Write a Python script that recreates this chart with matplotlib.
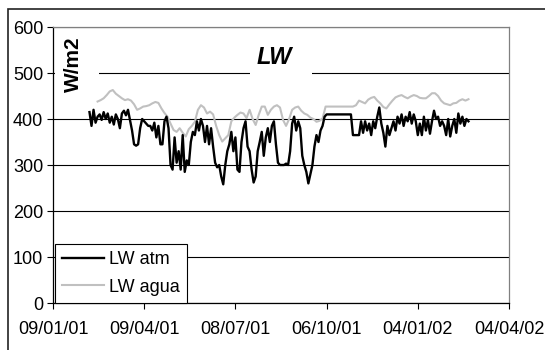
import matplotlib
matplotlib.use("Agg")
import matplotlib.pyplot as plt
import matplotlib.dates as mdates
import pandas as pd
from matplotlib.patches import Rectangle

plt.rcParams['font.family'] = ['Liberation Sans', 'DejaVu Sans']

# LW atm, one value every 2 days starting 14/02/01
atm_start = "2001-02-14"
lw_atm = [
    415, 385, 420, 392, 405, 410, 398, 415, 400, 412,
    392, 405, 388, 410, 400, 380, 412, 418, 408, 420,
    398, 375, 345, 342, 345, 380, 400, 395, 390, 385,
    385, 375, 392, 360, 385, 345, 345, 395, 405, 380,
    300, 290, 360, 305, 330, 290, 365, 285, 310, 300,
    350, 372, 365, 395, 375, 400, 385, 350, 385, 345,
    380, 340, 305, 295, 300, 275, 258, 300, 330, 345,
    372, 330, 360, 290, 285, 350, 380, 395, 340, 330,
    290, 262, 275, 330, 350, 372, 320, 360, 380, 350,
    385, 395, 345, 305, 300, 300, 300, 303, 300, 330,
    390, 405, 375, 395, 380, 320, 300, 285, 260, 280,
    300, 340, 365, 350, 375, 385, 405, 410, 410, 410,
    410, 410, 410, 410, 410, 410, 410, 410, 410, 410,
    365, 365, 365, 365, 395, 370, 395, 375, 390, 365,
    395, 380, 405, 425, 390, 370, 340, 385, 365, 380,
    395, 375, 405, 390, 410, 385, 405, 395, 415, 390,
    410, 395, 365, 390, 365, 405, 375, 398, 368, 395,
    418, 400, 405, 385, 395, 385, 365, 400, 362, 385,
    400, 370, 412, 390, 405, 385, 400, 395,
]

# LW agua, one value every 3 days starting 22/02/01
agua_start = "2001-02-22"
lw_agua = [
    438, 441, 445, 452, 460, 463, 455, 450, 445, 441,
    443, 440, 432, 420, 423, 427, 428, 430, 434, 437,
    435, 423, 413, 405, 390, 376, 372, 380, 370, 362,
    378, 385, 394, 420, 430, 425, 412, 416, 410, 385,
    365, 351, 358, 365, 395, 403, 409, 414, 412, 402,
    420, 400, 387, 409, 427, 427, 409, 420, 427, 430,
    425, 398, 385, 400, 420, 425, 427, 418, 412, 409,
    403, 400, 394, 396, 401, 427, 427, 427, 427, 427,
    427, 427, 427, 427, 427, 430, 440, 437, 434, 442,
    446, 448, 440, 434, 426, 423, 432, 440, 447, 450,
    452, 448, 445, 449, 452, 450, 446, 445, 445, 450,
    456, 456, 450, 440, 434, 432, 430, 434, 435, 440,
    443, 440, 443,
]

tick_dates = ["2001-01-09", "2001-04-09", "2001-07-08",
              "2001-10-06", "2002-01-04", "2002-04-04"]
y_ticks = [0, 100, 200, 300, 400, 500, 600]

atm_dates = pd.date_range(atm_start, periods=len(lw_atm), freq="2D")
agua_dates = pd.date_range(agua_start, periods=len(lw_agua), freq="3D")
ticks = pd.to_datetime(tick_dates)

W, H = 545, 350
fig = plt.figure(figsize=(W / 100, H / 100), dpi=100)
ax = fig.add_axes([53 / W, 47 / H, 456 / W, 276 / H])

# outer chart frame (runs off the right and bottom edges)
fig.add_artist(Rectangle((8 / W, -0.05), 1.0, 1 - 9 / H + 0.05,
                         transform=fig.transFigure, fill=False,
                         edgecolor='#222222', lw=1.2))

ax.plot(atm_dates, lw_atm, color='black', lw=1.7, label='LW atm', zorder=4)
ax.plot(agua_dates, lw_agua, color='#c0c0c0', lw=1.5, label='LW agua', zorder=3)

ax.set_xlim(ticks[0], ticks[-1])
ax.set_ylim(0, 600)
ax.set_xticks(ticks)
ax.xaxis.set_major_formatter(mdates.DateFormatter('%d/%m/%y'))
ax.set_yticks(y_ticks)

ax.yaxis.grid(True, color='black', lw=0.8)
ax.set_axisbelow(True)

for side in ('top', 'right'):
    ax.spines[side].set_color('#808080')
for side in ('left', 'bottom'):
    ax.spines[side].set_color('black')
for sp in ax.spines.values():
    sp.set_linewidth(0.9)

ax.tick_params(axis='both', direction='out', length=4, width=0.8,
               labelsize=13, colors='black')
ax.tick_params(axis='y', pad=3)
ax.tick_params(axis='x', pad=9)

# white boxes behind the two text labels hide the 500 gridline
ax.add_patch(Rectangle((2 / 456, (303 - 88) / 276), 44 / 456, 24 / 276,
                       transform=ax.transAxes, facecolor='white',
                       edgecolor='none', zorder=2))
ax.add_patch(Rectangle((197 / 456, (303 - 85) / 276), 62 / 456, 22 / 276,
                       transform=ax.transAxes, facecolor='white',
                       edgecolor='none', zorder=2))

ax.text((73 - 53) / 456, (303 - 64) / 276, 'W/m2', transform=ax.transAxes,
        rotation=90, ha='center', va='center', fontsize=15,
        fontweight='bold', zorder=5)
ax.text((274 - 53) / 456, (303 - 57) / 276, 'LW', transform=ax.transAxes,
        ha='center', va='center', fontsize=17, fontweight='bold',
        fontstyle='italic', zorder=5)

leg = ax.legend(loc='lower left', bbox_to_anchor=(2 / 456, 0),
                borderaxespad=0, fancybox=False, framealpha=1,
                edgecolor='black', fontsize=13, handlelength=2.3,
                handletextpad=0.3, labelspacing=0.6, borderpad=0.4)
leg.get_frame().set_linewidth(0.8)
leg.set_zorder(6)

fig.savefig('out.png', dpi=100)
